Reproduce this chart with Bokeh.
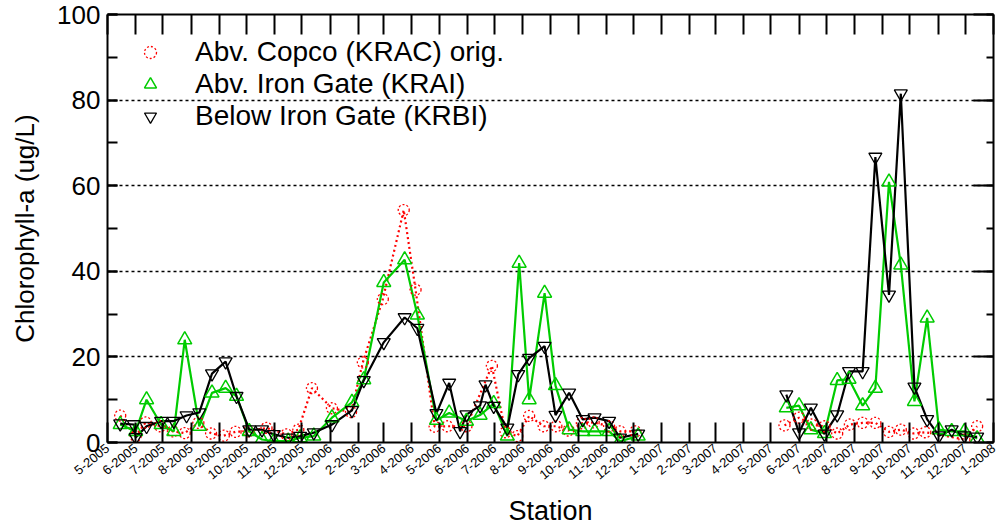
import math
from datetime import datetime
from bokeh.plotting import figure
from bokeh.models import (ColumnDataSource, FixedTicker, SingleIntervalTicker, LinearAxis,
                          DatetimeAxis, Range1d, Legend, LegendItem)
from bokeh.embed import file_html
from bokeh.resources import INLINE

TICK_LABELS = ["5-2005", "6-2005", "7-2005", "8-2005", "9-2005", "10-2005", "11-2005", "12-2005",
               "1-2006", "2-2006", "3-2006", "4-2006", "5-2006", "6-2006", "7-2006", "8-2006",
               "9-2006", "10-2006", "11-2006", "12-2006", "1-2007", "2-2007", "3-2007", "4-2007",
               "5-2007", "6-2007", "7-2007", "8-2007", "9-2007", "10-2007", "11-2007", "12-2007",
               "1-2008"]

KRAC_DATES = ["2005-05-15", "2005-06-01", "2005-06-12", "2005-06-28", "2005-07-12", "2005-07-25",
              "2005-08-09", "2005-08-23", "2005-09-06", "2005-09-19", "2005-10-03", "2005-10-23",
              "2005-11-14", "2005-11-27", "2005-12-12", "2006-01-03", "2006-01-24", "2006-02-06",
              "2006-02-28", "2006-03-23", "2006-04-05", "2006-04-26", "2006-05-10", "2006-05-31",
              "2006-06-28", "2006-07-13", "2006-07-26", "2006-08-08", "2006-08-24", "2006-09-07",
              "2006-09-20", "2006-10-05", "2006-10-18", "2006-11-04", "2006-11-16", "2006-12-03",
              "2007-05-16", "2007-06-01", "2007-06-15", "2007-06-29", "2007-07-13", "2007-07-27",
              "2007-08-10", "2007-08-24", "2007-09-08", "2007-09-21", "2007-10-05", "2007-10-18",
              "2007-11-30", "2007-12-14"]
KRAC_VALUES = [6.3, 1.5, 4.7, 3.8, 2.6, 2.2,
               4.6, 2.1, 1.6, 2.5, 2.6, 3.4,
               1.9, 3.0, 12.7, 8.0, 7.1, 18.7,
               33.5, 54.3, 35.7, 3.7, 3.8, 3.8,
               17.9, 2.4, 1.5, 6.2, 3.8, 3.8,
               2.8, 4.5, 4.7, 3.8, 2.6, 2.6,
               4.0, 5.8, 4.2, 3.8, 2.1, 4.2,
               4.6, 4.6, 2.5, 3.0, 2.1, 2.4,
               0.7, 3.8]

KRAI_DATES = ["2005-05-15", "2005-06-01", "2005-06-13", "2005-06-29", "2005-07-13", "2005-07-25",
              "2005-08-10", "2005-08-24", "2005-09-08", "2005-09-20", "2005-10-04", "2005-10-18",
              "2005-10-31", "2005-11-16", "2005-11-29", "2005-12-14", "2006-01-03", "2006-01-25",
              "2006-02-07", "2006-03-01", "2006-03-24", "2006-04-07", "2006-04-28", "2006-05-12",
              "2006-05-31", "2006-06-15", "2006-06-30", "2006-07-15", "2006-07-28", "2006-08-08",
              "2006-08-25", "2006-09-06", "2006-09-21", "2006-10-06", "2006-10-19", "2006-11-04",
              "2006-11-16", "2006-12-06",
              "2007-05-18", "2007-06-01", "2007-06-14", "2007-06-29", "2007-07-13", "2007-07-26",
              "2007-08-10", "2007-08-24", "2007-09-08", "2007-09-21", "2007-10-06", "2007-10-20",
              "2007-11-02", "2007-11-16", "2007-11-30", "2007-12-14"]
KRAI_VALUES = [4.2, 2.6, 10.0, 4.2, 2.6, 24.0,
               3.8, 11.6, 12.7, 10.8, 2.6, 0.7,
               0.3, 0.3, 1.1, 1.5, 5.8, 9.4,
               14.7, 37.4, 42.7, 29.8, 5.2, 6.9,
               5.0, 6.4, 9.1, 1.5, 41.9, 10.0,
               34.9, 13.3, 3.0, 2.6, 2.6, 2.6,
               0.3, 1.5,
               8.1, 8.6, 3.0, 2.1, 14.5, 14.8,
               8.6, 12.7, 60.9, 41.5, 9.6, 29.1,
               3.0, 2.6, 2.6, 0.9]

KRBI_DATES = ["2005-05-15", "2005-05-30", "2005-06-01", "2005-06-13", "2005-06-29", "2005-07-13",
              "2005-07-27", "2005-08-10", "2005-08-24", "2005-09-08", "2005-09-20", "2005-10-04",
              "2005-10-18", "2005-10-31", "2005-11-16", "2005-11-29", "2005-12-14", "2006-01-03",
              "2006-01-25", "2006-02-07", "2006-03-01", "2006-03-24", "2006-04-07", "2006-04-28",
              "2006-05-12", "2006-05-24", "2006-05-31", "2006-06-15", "2006-06-21", "2006-06-30",
              "2006-07-15", "2006-07-27", "2006-08-08", "2006-08-25", "2006-09-06", "2006-09-21",
              "2006-10-06", "2006-10-19", "2006-11-04", "2006-11-16", "2006-12-06",
              "2007-05-18", "2007-06-01", "2007-06-14", "2007-06-29", "2007-07-13", "2007-07-26",
              "2007-08-10", "2007-08-24", "2007-09-08", "2007-09-21", "2007-10-06", "2007-10-20",
              "2007-11-02", "2007-11-16", "2007-11-30", "2007-12-14"]
KRBI_VALUES = [4.4, 4.2, 1.2, 3.8, 5.0, 5.0,
               6.3, 7.0, 16.1, 18.9, 10.8, 3.0,
               3.0, 1.9, 1.1, 1.5, 2.3, 4.2,
               7.5, 14.5, 23.4, 29.2, 26.7, 6.8,
               13.9, 2.6, 6.5, 8.6, 13.5, 8.5,
               3.4, 15.9, 19.7, 22.5, 6.4, 11.6,
               5.4, 5.8, 5.0, 1.1, 2.0,
               11.2, 2.3, 8.1, 2.0, 6.5, 16.6,
               16.6, 66.7, 34.5, 81.5, 13.0, 5.4,
               1.6, 3.0, 1.6, 1.3]

FONT = "Liberation Sans"
RED = "#ff0000"
GREEN = "#00cc00"
BLACK = "#000000"


def to_dt(s):
    return datetime.strptime(s, "%Y-%m-%d")


def with_gaps(dates, values, max_gap_days=90):
    xs, ys = [], []
    prev = None
    for d, v in zip(dates, values):
        d = to_dt(d)
        if prev is not None and (d - prev).days > max_gap_days:
            xs.append(prev + (d - prev) / 2)
            ys.append(float("nan"))
        xs.append(d)
        ys.append(v)
        prev = d
    return xs, ys


tick_dates = []
for lbl in TICK_LABELS:
    m, y = lbl.split("-")
    tick_dates.append(datetime(int(y), int(m), 1))
epoch = datetime(1970, 1, 1)
tick_ms = [(d - epoch).total_seconds() * 1000.0 for d in tick_dates]

p = figure(width=999, height=529, output_backend="svg", toolbar_location=None,
           x_axis_type="datetime",
           x_range=Range1d(start=tick_dates[0], end=tick_dates[-1]),
           y_range=Range1d(start=0, end=100),
           min_border_left=107, min_border_right=6, min_border_top=14, min_border_bottom=86)
p.outline_line_color = None
p.background_fill_color = "white"
p.border_fill_color = "white"

# lines
for dates, vals, col, dash in [(KRAC_DATES, KRAC_VALUES, RED, "2 3"),
                               (KRAI_DATES, KRAI_VALUES, GREEN, "solid"),
                               (KRBI_DATES, KRBI_VALUES, BLACK, "solid")]:
    lx, ly = with_gaps(dates, vals)
    p.line(lx, ly, line_color=col, line_width=2.2, line_dash=dash)

src_c = ColumnDataSource(dict(x=[to_dt(d) for d in KRAC_DATES], y=KRAC_VALUES))
src_i = ColumnDataSource(dict(x=[to_dt(d) for d in KRAI_DATES], y=KRAI_VALUES))
src_b = ColumnDataSource(dict(x=[to_dt(d) for d in KRBI_DATES], y=KRBI_VALUES))

r_c = p.scatter("x", "y", source=src_c, marker="circle", size=11, fill_color=None,
                line_color=RED, line_width=1.3, line_dash="2 2")
r_i = p.scatter("x", "y", source=src_i, marker="triangle", size=14, fill_color=None,
                line_color=GREEN, line_width=1.5)
r_b = p.scatter("x", "y", source=src_b, marker="inverted_triangle", size=13, fill_color=None,
                line_color=BLACK, line_width=1.3)

# axes
yticker = SingleIntervalTicker(interval=20, num_minor_ticks=2)
xticker = FixedTicker(ticks=tick_ms)
overrides = {t: l for t, l in zip(tick_ms, TICK_LABELS)}

xa = p.xaxis[0]
xa.ticker = xticker
xa.major_label_overrides = overrides
xa.major_label_orientation = 0.68
xa.major_label_text_font = FONT
xa.major_label_text_font_size = "13px"
xa.major_label_text_color = BLACK
xa.major_label_standoff = 4
xa.major_tick_in = 20
xa.major_tick_out = 0
xa.minor_tick_in = 0
xa.minor_tick_out = 0
xa.axis_line_width = 2
xa.major_tick_line_width = 2
xa.axis_label = "Station"
xa.axis_label_text_font = FONT
xa.axis_label_text_font_size = "27px"
xa.axis_label_text_font_style = "normal"
xa.axis_label_text_color = BLACK
xa.axis_label_standoff = 10

ya = p.yaxis[0]
ya.ticker = yticker
ya.major_label_text_font = FONT
ya.major_label_text_font_size = "26px"
ya.major_label_text_color = BLACK
ya.major_label_standoff = 7
ya.major_tick_in = 10
ya.major_tick_out = 0
ya.minor_tick_in = 10
ya.minor_tick_out = 0
ya.axis_line_width = 2
ya.major_tick_line_width = 2
ya.minor_tick_line_width = 2
ya.axis_label = "Chlorophyll-a (ug/L)"
ya.axis_label_text_font = FONT
ya.axis_label_text_font_size = "26px"
ya.axis_label_text_font_style = "normal"
ya.axis_label_text_color = BLACK
ya.axis_label_standoff = 14

top = DatetimeAxis(ticker=xticker, major_label_overrides={t: "" for t in tick_ms},
                   major_label_text_font_size="0px", major_label_standoff=0,
                   major_tick_in=20, major_tick_out=0, minor_tick_in=0, minor_tick_out=0,
                   axis_line_width=2, major_tick_line_width=2)
p.add_layout(top, "above")

right = LinearAxis(ticker=yticker, major_label_text_font_size="0px", major_label_standoff=0,
                   major_label_overrides={v: "" for v in range(0, 101, 20)},
                   major_tick_in=20, major_tick_out=0, minor_tick_in=7, minor_tick_out=0,
                   axis_line_width=2, major_tick_line_width=2, minor_tick_line_width=2)
p.add_layout(right, "right")

p.xgrid.visible = False
p.ygrid.grid_line_color = BLACK
p.ygrid.grid_line_dash = "3 3"
p.ygrid.grid_line_width = 1.5

legend = Legend(items=[LegendItem(label="Abv. Copco (KRAC) orig.", renderers=[r_c]),
                       LegendItem(label="Abv. Iron Gate (KRAI)", renderers=[r_i]),
                       LegendItem(label="Below Iron Gate (KRBI)", renderers=[r_b])],
                location="top_left", margin=12, padding=10, spacing=0,
                glyph_width=42, glyph_height=30, label_height=30, label_standoff=24,
                label_text_font=FONT, label_text_font_size="28px", label_text_color=BLACK,
                border_line_alpha=0, background_fill_alpha=0)
p.add_layout(legend)

open("out.html", "w").write(file_html(p, INLINE))
